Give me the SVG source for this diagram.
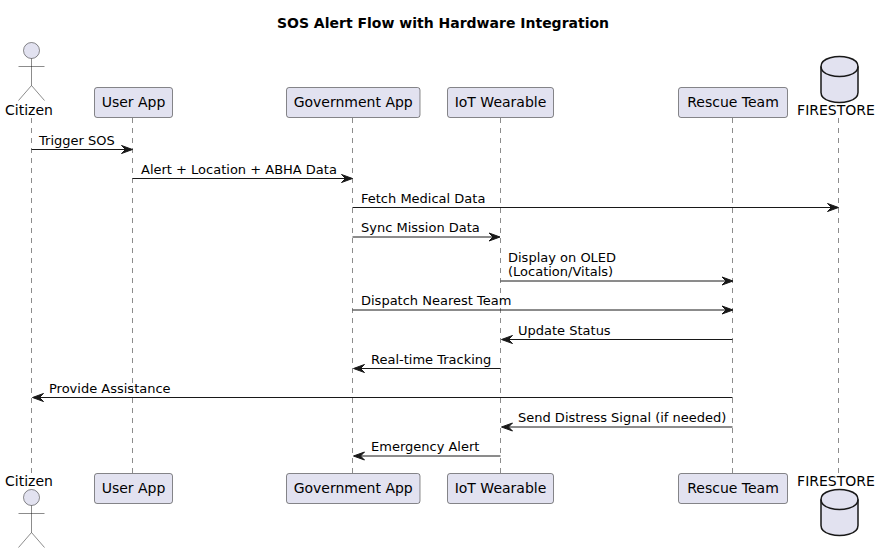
<svg xmlns="http://www.w3.org/2000/svg" width="881" height="553" viewBox="0 0 881 553">
<style>
text{font-family:"DejaVu Sans",sans-serif;font-size:13px;fill:#000}
.t{font-size:14px;font-weight:bold}
.p{font-size:14px;text-anchor:middle}
.a{font-size:14px;text-anchor:middle}
.box{fill:#E2E2F0;stroke:#181818;stroke-width:.5}
.actor{fill:#E2E2F0;stroke:#181818;stroke-width:.5}
.db{fill:#E2E2F0;stroke:#181818;stroke-width:1.5}
.life{stroke:#181818;stroke-width:.5;stroke-dasharray:5 5;fill:none}
.msg{stroke:#181818;stroke-width:1;fill:none}
.head{fill:#181818;stroke:#181818;stroke-width:1}
</style>
<rect width="881" height="553" fill="#fff"/>
<text class="t" x="443" y="28" text-anchor="middle">SOS Alert Flow with Hardware Integration</text>
<g id="lifelines">
<path class="life" d="M31.5 118V473M132.5 118V473M352.5 118V473M500.5 118V473M732.5 118V473M838.5 118V473"/>
</g>
<g id="citizen">
<circle class="actor" cx="31.5" cy="50.5" r="8"/>
<path class="actor" style="fill:none" d="M31.5 58.5V85.5M18.5 66.5H44.5M31.5 85.5L18.5 100.5M31.5 85.5L44.5 100.5"/>
<text class="a" x="29" y="115">Citizen</text>
<text class="a" x="29" y="486">Citizen</text>
<circle class="actor" cx="31.5" cy="497.5" r="8"/>
<path class="actor" style="fill:none" d="M31.5 505.5V532.5M18.5 513.5H44.5M31.5 532.5L18.5 547.5M31.5 532.5L44.5 547.5"/>
</g>
<g id="user-app">
<rect class="box" x="94.5" y="87.5" width="78" height="30" rx="2.5"/>
<text class="p" x="133.5" y="107">User App</text>
<rect class="box" x="94.5" y="473.5" width="78" height="30" rx="2.5"/>
<text class="p" x="133.5" y="493">User App</text>
</g>
<g id="government-app">
<rect class="box" x="286.5" y="87.5" width="133.5" height="30" rx="2.5"/>
<text class="p" x="353.2" y="107">Government App</text>
<rect class="box" x="286.5" y="473.5" width="133.5" height="30" rx="2.5"/>
<text class="p" x="353.2" y="493">Government App</text>
</g>
<g id="iot-wearable">
<rect class="box" x="447.5" y="87.5" width="106" height="30" rx="2.5"/>
<text class="p" x="500.5" y="107">IoT Wearable</text>
<rect class="box" x="447.5" y="473.5" width="106" height="30" rx="2.5"/>
<text class="p" x="500.5" y="493">IoT Wearable</text>
</g>
<g id="rescue-team">
<rect class="box" x="678.5" y="87.5" width="109" height="30" rx="2.5"/>
<text class="p" x="733" y="107">Rescue Team</text>
<rect class="box" x="678.5" y="473.5" width="109" height="30" rx="2.5"/>
<text class="p" x="733" y="493">Rescue Team</text>
</g>
<g id="firestore">
<path class="db" d="M821 66.5C821 56.5 839.5 56.5 839.5 56.5C839.5 56.5 858 56.5 858 66.5V92.5C858 102.5 839.5 102.5 839.5 102.5C839.5 102.5 821 102.5 821 92.5Z"/>
<path class="db" style="fill:none" d="M821 66.5C821 76.5 839.5 76.5 839.5 76.5C839.5 76.5 858 76.5 858 66.5"/>
<text class="a" x="836" y="115">FIRESTORE</text>
<text class="a" x="836" y="486">FIRESTORE</text>
<path class="db" d="M821 499.5C821 489.5 839.5 489.5 839.5 489.5C839.5 489.5 858 489.5 858 499.5V525.5C858 535.5 839.5 535.5 839.5 535.5C839.5 535.5 821 535.5 821 525.5Z"/>
<path class="db" style="fill:none" d="M821 499.5C821 509.5 839.5 509.5 839.5 509.5C839.5 509.5 858 509.5 858 499.5"/>
</g>
<g id="connectors">
<defs>
<path id="r" class="head" d="M0 0L-11 -4L-7 0L-11 4Z"/>
<path id="l" class="head" d="M0 0L11 -4L7 0L11 4Z"/>
</defs>
<path class="msg" d="M31.5 149.5H129M132.5 178.5H350M352.5 207.5H835M352.5 237H497M500.5 281H730M352.5 310H730M504 339.5H732.5M357 368.5H500.5M35 397.5H732.5M504 427H732.5M357 456H500.5"/>
<use href="#r" x="132.5" y="149.5"/>
<use href="#r" x="352.5" y="178.5"/>
<use href="#r" x="838.5" y="207.5"/>
<use href="#r" x="500" y="237"/>
<use href="#r" x="733" y="281"/>
<use href="#r" x="733" y="310"/>
<use href="#l" x="501.5" y="339.5"/>
<use href="#l" x="353.5" y="368.5"/>
<use href="#l" x="32.5" y="397.5"/>
<use href="#l" x="501.5" y="427"/>
<use href="#l" x="353.5" y="456"/>
<text x="39" y="145">Trigger SOS</text>
<text x="141" y="174">Alert + Location + ABHA Data</text>
<text x="361" y="203">Fetch Medical Data</text>
<text x="361" y="232">Sync Mission Data</text>
<text x="508" y="261.5">Display on OLED</text>
<text x="508" y="276">(Location/Vitals)</text>
<text x="361" y="305">Dispatch Nearest Team</text>
<text x="518" y="335">Update Status</text>
<text x="371" y="364">Real-time Tracking</text>
<text x="49" y="393">Provide Assistance</text>
<text x="518" y="422">Send Distress Signal (if needed)</text>
<text x="371" y="451">Emergency Alert</text>
</g>
</svg>
